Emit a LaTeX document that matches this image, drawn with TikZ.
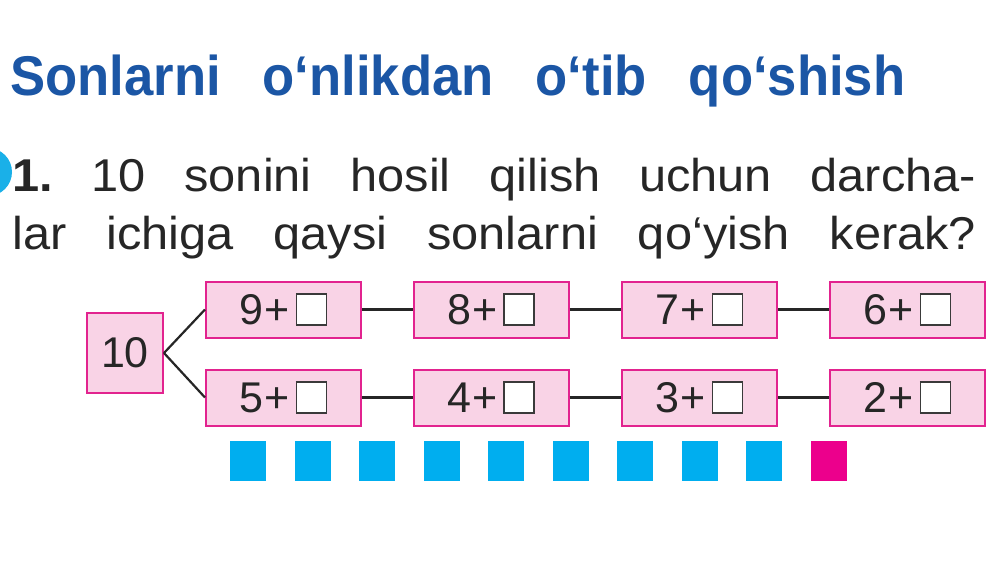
\documentclass[tikz,border=0pt]{standalone}
\usepackage{fontspec}
\setmainfont{Liberation Sans}
\newfontfamily\titlefont[FakeStretch=0.94]{Liberation Sans}
\newfontfamily\bodyfont[FakeStretch=1.06]{Liberation Sans}
\definecolor{titleblue}{HTML}{1B56A5}
\definecolor{boxfill}{HTML}{F9D3E6}
\definecolor{boxline}{HTML}{E2238F}
\definecolor{txt}{HTML}{262626}
\definecolor{sqgray}{HTML}{3A3A3A}
\definecolor{sqblue}{HTML}{00AEEF}
\definecolor{sqmag}{HTML}{EC008C}
\definecolor{dotblue}{HTML}{1AB0E8}
\newcommand{\emptysq}{{\setlength{\fboxsep}{0pt}\setlength{\fboxrule}{1.3pt}\fcolorbox{sqgray}{white}{\rule{0pt}{29.5pt}\rule{28.5pt}{0pt}}}}
\newcommand{\sumtext}[1]{#1\hspace{1pt}+\hspace{6pt}\emptysq}
\tikzset{
  sumbox/.style={draw=boxline, fill=boxfill, line width=2pt, minimum width=155pt, minimum height=56pt, inner sep=0pt, text=txt, font=\fontsize{43}{50}\selectfont},
  tenbox/.style={sumbox, minimum width=76pt, minimum height=80pt},
  conn/.style={draw=txt, line width=2.2pt},
  counter/.style={minimum width=36pt, minimum height=40pt, inner sep=0pt, anchor=north west},
}
\begin{document}
\frenchspacing
\begin{tikzpicture}[x=1pt,y=-1pt]
\useasboundingbox (0,0) rectangle (1000,562);
\fill[white] (0,0) rectangle (1000,562);
\fill[dotblue] (-12,172) circle (24pt);
\node[anchor=base west, inner sep=0pt, text=titleblue, font=\titlefont\fontsize{56}{64}\selectfont\bfseries] (title) at (10,95) {\makebox[895pt][s]{Sonlarni o‘nlikdan o‘tib qo‘shish}};
\node[anchor=base west, inner sep=0pt, text=txt, font=\bodyfont\fontsize{46}{54}\selectfont] (line1) at (12,191) {\makebox[964pt][s]{\textbf{1.} 10 sonini hosil qilish uchun darcha-}};
\node[anchor=base west, inner sep=0pt, text=txt, font=\bodyfont\fontsize{46}{54}\selectfont] (line2) at (12,249) {\makebox[964pt][s]{lar ichiga qaysi sonlarni qo‘yish kerak?}};
\node[tenbox] (ten) at (125,353) {10};
\node[sumbox] (b1) at (283.5,309.5) {\sumtext{9}};
\node[sumbox] (b2) at (491,309.5) {\sumtext{8}};
\node[sumbox] (b3) at (699.5,309.5) {\sumtext{7}};
\node[sumbox] (b4) at (907.5,309.5) {\sumtext{6}};
\node[sumbox] (b5) at (283.5,397.5) {\sumtext{5}};
\node[sumbox] (b6) at (491,397.5) {\sumtext{4}};
\node[sumbox] (b7) at (699.5,397.5) {\sumtext{3}};
\node[sumbox] (b8) at (907.5,397.5) {\sumtext{2}};
\draw[conn] (ten.east) -- (b1.west);
\draw[conn] (ten.east) -- (b5.west);
\draw[conn] (b1) -- (b2);
\draw[conn] (b2) -- (b3);
\draw[conn] (b3) -- (b4);
\draw[conn] (b5) -- (b6);
\draw[conn] (b6) -- (b7);
\draw[conn] (b7) -- (b8);
\foreach \i in {0,...,8} {
  \node[counter, fill=sqblue] (c\i) at ({230+64.5*\i},441) {};
}
\node[counter, fill=sqmag] (c9) at (811,441) {};
\end{tikzpicture}
\end{document}
